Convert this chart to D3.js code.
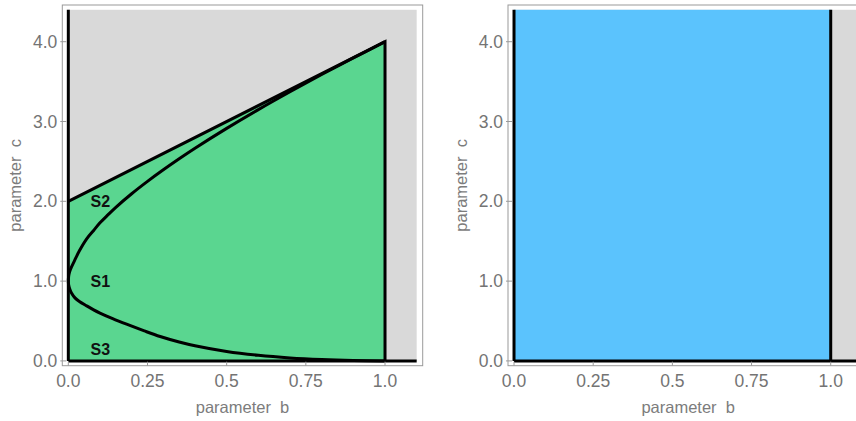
<!DOCTYPE html>
<html>
<head>
<meta charset="utf-8">
<script src="https://d3js.org/d3.v7.min.js"></script>
<style>
    body { margin: 0; background: #fff; }
    text { font-family: "Liberation Sans", Arial, sans-serif; }
</style>
</head>
<body>
<div id="chart"></div>
<script>
// tick values
var xTicks = [0, 0.25, 0.5, 0.75, 1.0]
var xTickLabels = ['0.0', '0.25', '0.5', '0.75', '1.0']
var yTicks = [0, 1, 2, 3, 4]
var yTickLabels = ['0.0', '1.0', '2.0', '3.0', '4.0']

// plotted region (parameter space)
var bMax = 1.1
var cMax = 4.4

// upper boundary line, from (0,2) to (1,4)
var lineB = [0, 1]
var lineC = [2, 4]

// curve: upper branch (vertex (0,1) up to (1,4))
var upperB = [0, 0.001, 0.003, 0.007, 0.02, 0.035, 0.058, 0.08, 0.1, 0.125, 0.15, 0.2, 0.25, 0.3, 0.35, 0.4, 0.5, 0.6, 0.7, 0.8, 0.9, 1.0]
var upperC = [1, 1.058, 1.1, 1.15, 1.26, 1.38, 1.53, 1.635, 1.73, 1.83, 1.925, 2.095, 2.25, 2.395, 2.533, 2.665, 2.914, 3.149, 3.373, 3.589, 3.797, 4.0]
// lower branch (vertex (0,1) down to (1,0))
var lowerB = [0, 0.001, 0.0045, 0.01, 0.021, 0.035, 0.058, 0.08, 0.1, 0.14, 0.184, 0.24, 0.29, 0.35, 0.4, 0.5, 0.6, 0.7, 0.8, 0.9, 1.0]
var lowerC = [1, 0.953, 0.9, 0.85, 0.79, 0.745, 0.69, 0.64, 0.6, 0.53, 0.46, 0.376, 0.306, 0.237, 0.19, 0.118, 0.07, 0.038, 0.018, 0.006, 0]

// region labels
var regionNames = ['S2', 'S1', 'S3']
var regionB = [0.07, 0.07, 0.07]
var regionC = [2.0, 1.0, 0.15]

var width = 856, height = 421

var svg = d3.select('#chart')
    .append('svg')
    .attr('width', width)
    .attr('height', height)

// frame of one panel in pixels
var frame = { left: 62.3, right: 422.7, top: 5, bottom: 365.7 }
var panelOffset = 445.7

function panel(offset, kind) {
    var g = svg.append('g')
        .attr('transform', 'translate(' + offset + ',0)')

    var x = d3.scaleLinear()
        .domain([-0.019, 1.119])
        .range([frame.left, frame.right])
    var y = d3.scaleLinear()
        .domain([-0.06, 4.46])
        .range([frame.bottom, frame.top])

    // gray background of the region
    g.append('rect')
        .attr('x', x(0))
        .attr('y', y(cMax))
        .attr('width', x(bMax) - x(0))
        .attr('height', y(0) - y(cMax))
        .attr('fill', '#d9d9d9')

    var line = d3.line()
        .x(d => x(d[0]))
        .y(d => y(d[1]))

    if (kind == 'green') {
        // green region under the line c = 2 + 2b
        var poly = [[0, 0], [1, 0], [lineB[1], lineC[1]], [lineB[0], lineC[0]]]
        g.append('path')
            .attr('d', line(poly) + 'Z')
            .attr('fill', '#5ad690')

        // curve: lower branch back to the vertex, then upper branch
        var pts = []
        for (var i = lowerB.length - 1; i >= 0; i--) pts.push([lowerB[i], lowerC[i]])
        for (var j = 1; j < upperB.length; j++) pts.push([upperB[j], upperC[j]])
        var smooth = d3.line()
            .x(d => x(d[0]))
            .y(d => y(d[1]))
            .curve(d3.curveCatmullRom.alpha(0.5))
        g.append('path')
            .attr('d', smooth(pts))
            .attr('fill', 'none')
            .attr('stroke', '#000')
            .attr('stroke-width', 3)

        // boundary lines
        g.append('path')
            .attr('d', line([[lineB[0], lineC[0]], [lineB[1], lineC[1]], [1, 0]]))
            .attr('fill', 'none')
            .attr('stroke', '#000')
            .attr('stroke-width', 3)
            .attr('stroke-linejoin', 'miter')

        g.selectAll('.region')
            .data(regionNames)
            .enter()
            .append('text')
            .attr('x', (d, i) => x(regionB[i]))
            .attr('y', (d, i) => y(regionC[i]))
            .attr('dy', '0.35em')
            .style('font-size', '16px')
            .style('font-weight', 'bold')
            .attr('fill', '#111')
            .text(d => d)
    } else {
        // blue region 0 <= b <= 1
        g.append('rect')
            .attr('x', x(0))
            .attr('y', y(cMax))
            .attr('width', x(1) - x(0))
            .attr('height', y(0) - y(cMax))
            .attr('fill', '#5bc3fd')

        g.append('line')
            .attr('x1', x(1)).attr('x2', x(1))
            .attr('y1', y(0)).attr('y2', y(cMax))
            .attr('stroke', '#000')
            .attr('stroke-width', 3)
    }

    // axis lines b = 0 and c = 0
    g.append('line')
        .attr('x1', x(0)).attr('x2', x(0))
        .attr('y1', y(0)).attr('y2', y(cMax))
        .attr('stroke', '#000')
        .attr('stroke-width', 3)
    g.append('line')
        .attr('x1', x(0)).attr('x2', x(bMax))
        .attr('y1', y(0)).attr('y2', y(0))
        .attr('stroke', '#000')
        .attr('stroke-width', 3)

    // frame
    g.append('rect')
        .attr('x', frame.left)
        .attr('y', frame.top)
        .attr('width', frame.right - frame.left)
        .attr('height', frame.bottom - frame.top)
        .attr('fill', 'none')
        .attr('stroke', '#9a9a9a')
        .attr('stroke-width', 1)

    // ticks and tick labels
    g.selectAll('.xtick')
        .data(xTicks)
        .enter()
        .append('line')
        .attr('x1', d => x(d)).attr('x2', d => x(d))
        .attr('y1', frame.bottom).attr('y2', frame.bottom - 4)
        .attr('stroke', '#9a9a9a')
    g.selectAll('.xlab')
        .data(xTicks)
        .enter()
        .append('text')
        .attr('x', d => x(d))
        .attr('y', frame.bottom + 21)
        .attr('text-anchor', 'middle')
        .style('font-size', '17.5px')
        .attr('fill', '#747474')
        .text((d, i) => xTickLabels[i])

    g.selectAll('.ytick')
        .data(yTicks)
        .enter()
        .append('line')
        .attr('x1', frame.left - 2).attr('x2', frame.left + 4)
        .attr('y1', d => y(d)).attr('y2', d => y(d))
        .attr('stroke', '#9a9a9a')
    g.selectAll('.ylab')
        .data(yTicks)
        .enter()
        .append('text')
        .attr('x', frame.left - 5)
        .attr('y', d => y(d))
        .attr('dy', '0.35em')
        .attr('text-anchor', 'end')
        .style('font-size', '17.5px')
        .attr('fill', '#747474')
        .text((d, i) => yTickLabels[i])

    // axis titles
    g.append('text')
        .attr('x', (frame.left + frame.right) / 2)
        .attr('y', 413)
        .attr('text-anchor', 'middle')
        .style('font-size', '16.5px')
        .attr('fill', '#7c7c7c')
        .attr('xml:space', 'preserve')
        .text('parameter  b')
    g.append('text')
        .attr('transform', 'translate(21,' + (frame.top + frame.bottom) / 2 + ') rotate(-90)')
        .attr('text-anchor', 'middle')
        .style('font-size', '16.5px')
        .attr('fill', '#7c7c7c')
        .attr('xml:space', 'preserve')
        .text('parameter  c')
}

panel(0, 'green')
panel(panelOffset, 'blue')
</script>
</body>
</html>
